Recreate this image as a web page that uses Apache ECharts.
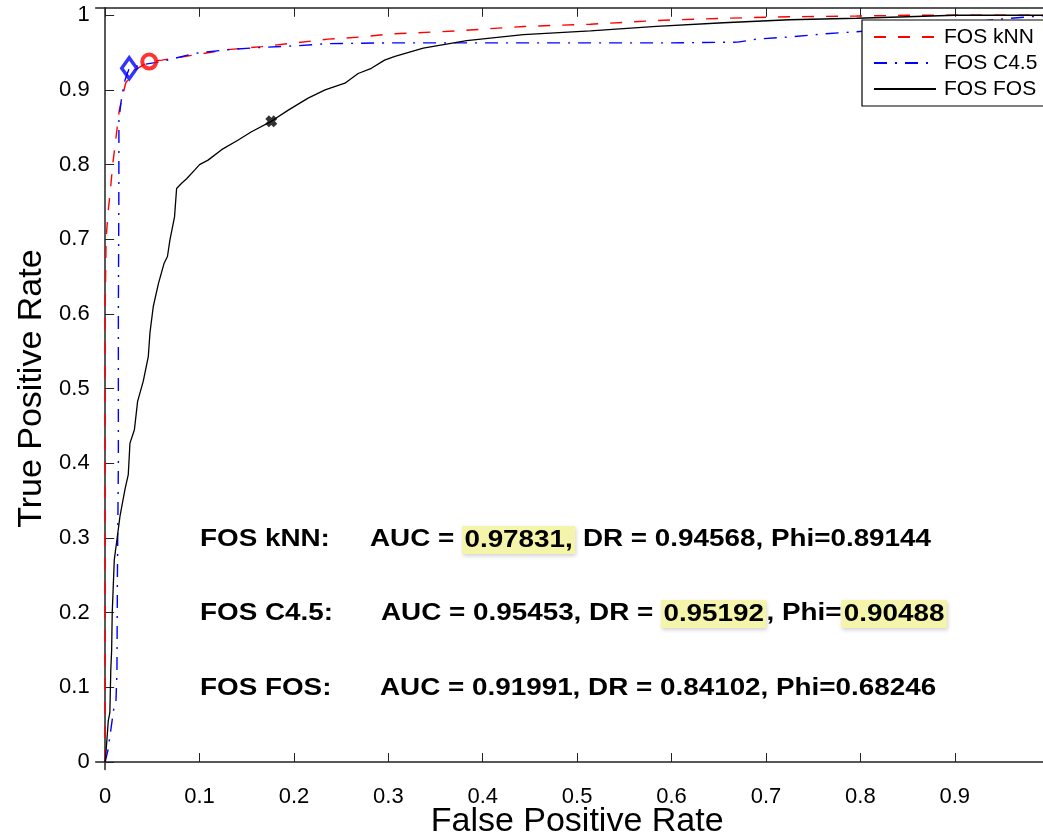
<!DOCTYPE html>
<html>
<head>
<meta charset="utf-8">
<script src="https://cdn.jsdelivr.net/npm/echarts@6.0.0/dist/echarts.min.js"></script>
<style>
html, body { margin: 0; padding: 0; background: #fff; }
#chart { width: 1043px; height: 833px; }
</style>
</head>
<body>
<div id="chart"></div>
<script>
// curve names
var seriesNames = ['FOS kNN', 'FOS C4.5', 'FOS FOS'];

// ROC points: [false positive rate, true positive rate]
var knnRoc = [
  [0, 0], [0, 0.3], [0, 0.6], [0.001, 0.7], [0.003, 0.735], [0.0055, 0.765],
  [0.008, 0.8], [0.011, 0.831], [0.015, 0.873], [0.0217, 0.909], [0.0316, 0.927],
  [0.0467, 0.938], [0.06, 0.94], [0.095, 0.947], [0.13, 0.954], [0.166, 0.958],
  [0.201, 0.963], [0.236, 0.968], [0.272, 0.971], [0.303, 0.975], [0.372, 0.979],
  [0.443, 0.985], [0.514, 0.988], [0.584, 0.993], [0.655, 0.996], [0.725, 0.998],
  [0.796, 0.999], [0.85, 1], [1, 1]
];
var c45Roc = [
  [0, 0], [0.003, 0.016], [0.006, 0.043], [0.009, 0.07], [0.0115, 0.083],
  [0.0125, 0.12], [0.013, 0.25], [0.014, 0.4], [0.014, 0.6], [0.0145, 0.75],
  [0.0146, 0.86], [0.0175, 0.891], [0.021, 0.913], [0.0255, 0.929], [0.04, 0.934],
  [0.06, 0.938], [0.095, 0.949], [0.13, 0.954], [0.166, 0.957], [0.201, 0.959],
  [0.236, 0.962], [0.3, 0.963], [0.4, 0.963], [0.5, 0.963], [0.6, 0.963],
  [0.67, 0.964], [0.69, 0.968], [0.725, 0.971], [0.761, 0.975], [0.796, 0.978],
  [0.85, 0.983], [0.95, 0.995], [1, 1]
];
var fosRoc = [
  [0, 0], [0.0016, 0.025], [0.0033, 0.055], [0.005, 0.066], [0.006, 0.124],
  [0.0069, 0.15], [0.0075, 0.2], [0.0097, 0.271], [0.012, 0.293], [0.0157, 0.329],
  [0.021, 0.365], [0.0245, 0.385], [0.0263, 0.427], [0.031, 0.445], [0.0344, 0.483],
  [0.0404, 0.51], [0.0457, 0.543], [0.0475, 0.575], [0.051, 0.61], [0.0565, 0.641],
  [0.0625, 0.668], [0.066, 0.677], [0.0686, 0.699], [0.0735, 0.73], [0.0757, 0.768],
  [0.081, 0.775], [0.0863, 0.781], [0.095, 0.793], [0.1, 0.8], [0.109, 0.806],
  [0.1234, 0.82], [0.141, 0.833], [0.155, 0.844], [0.176, 0.858], [0.194, 0.873],
  [0.215, 0.889], [0.233, 0.9], [0.254, 0.909], [0.268, 0.922], [0.282, 0.929],
  [0.296, 0.94], [0.307, 0.945], [0.337, 0.956], [0.383, 0.966], [0.443, 0.974],
  [0.514, 0.979], [0.584, 0.985], [0.655, 0.99], [0.725, 0.994], [0.796, 0.996],
  [0.85, 0.998], [0.9, 1], [1, 1]
];

// operating points marked on each curve
var knnPoint = [[0.0467, 0.938]];
var c45Point = [[0.0255, 0.929]];
var fosPoint = [[0.176, 0.858]];

// tick values
var xTicks = [0, 0.1, 0.2, 0.3, 0.4, 0.5, 0.6, 0.7, 0.8, 0.9];
var yTicks = [0, 0.1, 0.2, 0.3, 0.4, 0.5, 0.6, 0.7, 0.8, 0.9, 1];

// statistics printed in the plot
var statLabels = ['FOS kNN:', 'FOS C4.5:', 'FOS FOS:'];
var aucValues = ['0.97831', '0.95453', '0.91991'];
var drValues = ['0.94568', '0.95192', '0.84102'];
var phiValues = ['0.89144', '0.90488', '0.68246'];
var highlighted = [['auc'], ['dr', 'phi'], []];

var FONT = '"Liberation Sans", Arial, Helvetica, sans-serif';
var STAT_SIZE = 23;
var STAT_SCALE = 1.21;

function tok(style, s) { return '{' + style + '|' + s + '}'; }

function statText(i) {
  var h = highlighted[i];
  var s = '';
  if (h.indexOf('auc') >= 0) {
    s += tok('n', 'AUC = ') + tok('h', aucValues[i] + ',') + tok('n', ' DR = ');
  } else {
    s += tok('n', 'AUC = ' + aucValues[i] + ', DR = ');
  }
  if (h.indexOf('dr') >= 0) {
    s += tok('h', drValues[i]) + tok('n', ', Phi=');
  } else {
    s += tok('n', drValues[i] + ', Phi=');
  }
  s += h.indexOf('phi') >= 0 ? tok('h', phiValues[i]) : tok('n', phiValues[i]);
  return s;
}

var rowY = [540, 614, 689];
var restX = [370, 381, 380];
var graphics = [];
for (var i = 0; i < statLabels.length; i++) {
  graphics.push({
    type: 'text', x: 200, y: rowY[i], scaleX: STAT_SCALE, z: 10,
    style: {
      text: statLabels[i], fill: '#000', fontFamily: FONT,
      fontWeight: 'bold', fontSize: STAT_SIZE, verticalAlign: 'middle'
    }
  });
  graphics.push({
    type: 'text', x: restX[i], y: rowY[i], scaleX: STAT_SCALE, z: 10,
    style: {
      text: statText(i), fontFamily: FONT, fontWeight: 'bold', fontSize: STAT_SIZE,
      verticalAlign: 'middle',
      rich: {
        n: { fontFamily: FONT, fontWeight: 'bold', fontSize: STAT_SIZE, color: '#000', lineHeight: 23 },
        h: {
          fontFamily: FONT, fontWeight: 'bold', fontSize: STAT_SIZE, color: '#3b3b08', lineHeight: 23,
          backgroundColor: '#f4f4aa', padding: [3, 2, 2, 2],
          shadowColor: 'rgba(0,0,0,0.18)', shadowBlur: 4, shadowOffsetX: 1, shadowOffsetY: 2
        }
      }
    }
  });
}

var axisLineStyle = { color: '#222', width: 1.5 };
var tickStyle = { color: '#222', width: 1 };

var chart = echarts.init(document.getElementById('chart'));
chart.setOption({
  animation: false,
  backgroundColor: '#fff',
  grid: {
    left: 95.7, right: -15.6, top: 7.8, bottom: 63.5,
    containLabel: false, outerBoundsMode: 'none'
  },
  legend: {
    data: seriesNames,
    orient: 'vertical',
    left: 862, top: 20,
    itemWidth: 62, itemHeight: 14, itemGap: 0,
    padding: [4, 24, 4, 11],
    backgroundColor: '#fff',
    borderColor: '#000', borderWidth: 1.2, borderRadius: 0,
    itemStyle: { opacity: 0 },
    textStyle: { fontFamily: FONT, fontSize: 21, color: '#000', lineHeight: 26, padding: [0, 0, 0, 3] }
  },
  xAxis: [{
    type: 'value', min: -0.01, max: 1.01,
    name: 'False Positive Rate', nameLocation: 'middle', nameGap: 35, nameMoveOverlap: false,
    nameTextStyle: { fontFamily: FONT, fontSize: 34, color: '#000' },
    axisLine: { show: true, lineStyle: axisLineStyle },
    axisTick: { show: true, inside: true, length: 9, lineStyle: tickStyle, customValues: xTicks },
    axisLabel: { show: true, customValues: xTicks, margin: 16, fontFamily: FONT, fontSize: 22, color: '#000',
      formatter: function (v) { return String(v); } },
    splitLine: { show: false }
  }, {
    type: 'value', min: -0.01, max: 1.01, position: 'top',
    axisLine: { show: true, lineStyle: axisLineStyle },
    axisTick: { show: true, inside: true, length: 9, lineStyle: tickStyle, customValues: xTicks },
    axisLabel: { show: false },
    splitLine: { show: false }
  }],
  yAxis: {
    type: 'value', min: -0.01, max: 1.01,
    name: 'True Positive Rate', nameLocation: 'middle', nameGap: 47, nameMoveOverlap: false,
    nameTextStyle: { fontFamily: FONT, fontSize: 34, color: '#000' },
    axisLine: { show: true, lineStyle: axisLineStyle },
    axisTick: { show: true, inside: true, length: 9, lineStyle: tickStyle, customValues: yTicks },
    axisLabel: { show: true, customValues: yTicks, margin: 6, fontFamily: FONT, fontSize: 22, color: '#000',
      formatter: function (v) { return String(v); } },
    splitLine: { show: false }
  },
  series: [{
    name: seriesNames[0], type: 'line', data: knnRoc,
    symbol: 'none', showSymbol: false, z: 3,
    itemStyle: { color: '#ff0000' },
    lineStyle: { color: '#ff0000', width: 1.4, type: [12, 12] }
  }, {
    name: seriesNames[1], type: 'line', data: c45Roc,
    symbol: 'none', showSymbol: false, z: 3,
    itemStyle: { color: '#0000ff' },
    lineStyle: { color: '#0000ff', width: 1.4, type: [13, 8, 2, 8] }
  }, {
    name: seriesNames[2], type: 'line', data: fosRoc,
    symbol: 'none', showSymbol: false, z: 3,
    itemStyle: { color: '#000' },
    lineStyle: { color: '#000', width: 1.3 }
  }, {
    type: 'scatter', data: knnPoint, z: 5,
    symbol: 'circle', symbolSize: 14,
    itemStyle: { color: 'rgba(0,0,0,0)', borderColor: '#ff0000', borderWidth: 4 }
  }, {
    type: 'scatter', data: c45Point, z: 5,
    symbol: 'diamond', symbolSize: [15, 21],
    itemStyle: { color: 'rgba(0,0,0,0)', borderColor: '#0000ff', borderWidth: 3.5 }
  }, {
    type: 'scatter', data: fosPoint, z: 5,
    symbol: 'path://M0,3L3,0L5,2L7,0L10,3L8,5L10,7L7,10L5,8L3,10L0,7L2,5Z', symbolSize: 12,
    itemStyle: { color: '#000' }
  }],
  graphic: graphics
});
</script>
</body>
</html>
